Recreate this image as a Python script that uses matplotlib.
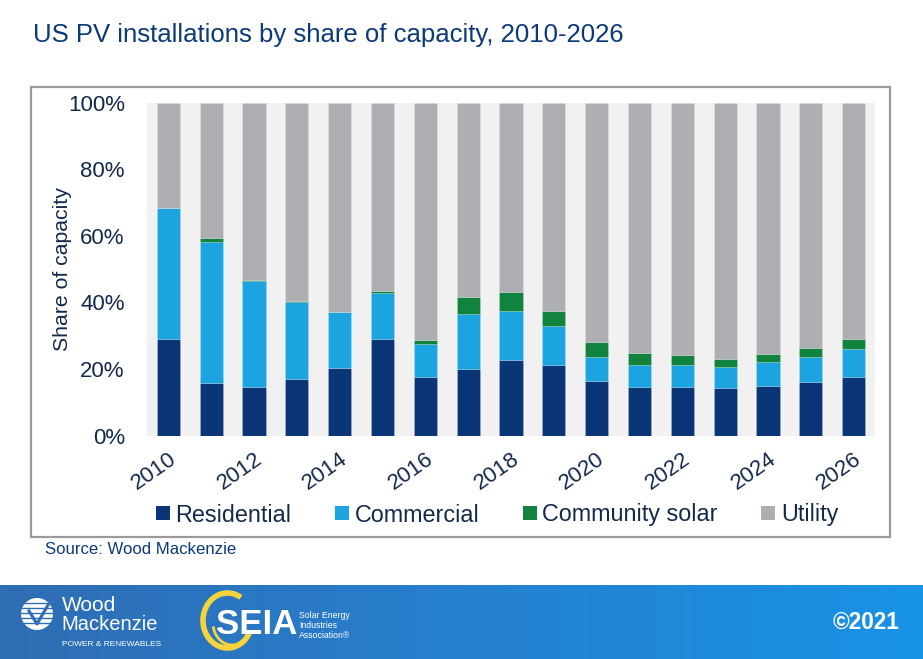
import matplotlib
matplotlib.use("Agg")
import matplotlib.pyplot as plt
import numpy as np
from matplotlib.patches import Rectangle, Ellipse, Arc
from matplotlib.lines import Line2D
from matplotlib.colors import LinearSegmentedColormap

years = list(range(2010, 2027))
residential = [29.1, 15.8, 14.7, 17.0, 20.4, 29.1, 17.5, 20.1, 22.7, 21.2, 16.4, 14.7, 14.7, 14.4, 15.0, 16.1, 17.7]
commercial = [39.4, 42.3, 31.8, 23.2, 16.6, 13.8, 10.0, 16.3, 14.6, 11.6, 7.3, 6.5, 6.5, 6.2, 7.0, 7.6, 8.3]
community = [0.0, 1.3, 0.2, 0.2, 0.2, 0.5, 1.3, 5.3, 5.9, 4.7, 4.4, 3.6, 3.0, 2.4, 2.5, 2.7, 3.0]
utility = [100 - r - c - s for r, c, s in zip(residential, commercial, community)]
series_names = ["Residential", "Commercial", "Community solar", "Utility"]
colors = ["#0a3678", "#1ba4e0", "#11833f", "#adafb2"]
yticks = [0, 20, 40, 60, 80, 100]

W, H = 923, 659
fig = plt.figure(figsize=(W / 100, H / 100), dpi=100)
fig.patch.set_facecolor("white")
plt.rcParams['font.family'] = ['Liberation Sans', 'DejaVu Sans']

navy = "#13294b"

# Title
fig.text(33 / W, 1 - 35 / H, "US PV installations by share of capacity, 2010-2026",
         fontsize=18.5, color="#0b3a7a", ha="left", va="center")

# Outer chart box
fig.patches.append(Rectangle((31 / W, 1 - 537 / H), (890 - 31) / W, (537 - 87) / H,
                             transform=fig.transFigure, fill=False,
                             edgecolor="#9a9a9a", lw=1.6, zorder=0))

ax = fig.add_axes([147 / W, 1 - 435.7 / H, (875 - 147) / W, (435.7 - 102.7) / H])
ax.set_facecolor("#f1f1f1")
x = np.arange(len(years))
bottom = np.zeros(len(years))
data = [residential, commercial, community, utility]
for vals, col in zip(data, colors):
    vals = np.array(vals)
    ax.bar(x, vals, bottom=bottom, width=0.54, color=col,
           edgecolor=(1, 1, 1, 0.25), linewidth=0.5)
    bottom += vals

ax.set_xlim(-0.5, len(years) - 0.5)
ax.set_ylim(0, 100)
ax.set_yticks(yticks)
ax.set_yticklabels([f"{v}%" for v in yticks], fontsize=16, color=navy)
ax.set_xticks(x[::2])
ax.set_xticklabels([str(y) for y in years[::2]], rotation=35, ha="right", va="top",
                   rotation_mode="anchor", fontsize=16, color=navy)
ax.tick_params(axis="both", length=0)
ax.tick_params(axis="y", pad=16)
ax.tick_params(axis="x", pad=9)
for s in ax.spines.values():
    s.set_visible(False)
ax.set_ylabel("Share of capacity", fontsize=15.3, color=navy)
ax.yaxis.set_label_coords(-0.103, 0.5)

# Legend
handles = [Line2D([0], [0], marker="s", linestyle="none", markersize=9.4,
                  markerfacecolor=c, markeredgewidth=0) for c in colors]
fig.legend(handles, series_names, loc="center", bbox_to_anchor=(497 / W, 1 - 515 / H),
           ncol=4, frameon=False, fontsize=16.8, handlelength=0.6, handletextpad=0.25,
           columnspacing=1.85, labelcolor=navy)

# Source
fig.text(45 / W, 1 - 550 / H, "Source: Wood Mackenzie", fontsize=12.1, color="#0b3a7a",
         ha="left", va="center")

# Footer band with gradient
fax = fig.add_axes([0, 0, 1, 74 / H])
grad = np.linspace(0, 1, 256)[None, :]
cmap = LinearSegmentedColormap.from_list("band", ["#2f6db4", "#2680cf", "#1893e6"])
fax.imshow(grad, aspect="auto", cmap=cmap, extent=[0, W, 0, 74])
fax.set_xlim(0, W)
fax.set_ylim(0, 74)
fax.axis("off")

# Wood Mackenzie logo (approximation)
fax.add_patch(Ellipse((37, 45), 32, 32, facecolor="white", edgecolor="none"))
for yy in [36, 41, 46, 51, 56]:
    fax.plot([21, 53], [yy, yy], color="#2f6db4", lw=1.0)
fax.plot([29, 37, 48], [48, 35, 54], color="#2f6db4", lw=2.2)
fax.text(62, 53.5, "Wood", color="white", fontsize=15, ha="left", va="center")
fax.text(61, 34, "Mackenzie", color="white", fontsize=14.5, ha="left", va="center")
fax.text(62, 14, "POWER & RENEWABLES", color="white", fontsize=6, ha="left", va="center")

# SEIA logo (approximation)
fax.add_patch(Arc((227.5, 38.5), 49, 55, theta1=60, theta2=330, color="#f4d33b", lw=4))
fax.add_patch(Arc((232, 36), 38, 44, theta1=190, theta2=320, color="#f4d33b", lw=2))
fax.text(216, 35, "SEIA", color="white", fontsize=25, fontweight="bold",
         ha="left", va="center")
fax.text(299, 43, "Solar Energy", color="white", fontsize=6.3, ha="left", va="center")
fax.text(299, 33, "Industries", color="white", fontsize=6.3, ha="left", va="center")
fax.text(299, 24, "Association®", color="white", fontsize=6.3, ha="left", va="center")

fax.text(899, 36.5, "©2021", color="white", fontsize=16.3, fontweight="bold",
         ha="right", va="center")

fig.savefig("out.png", dpi=100)
